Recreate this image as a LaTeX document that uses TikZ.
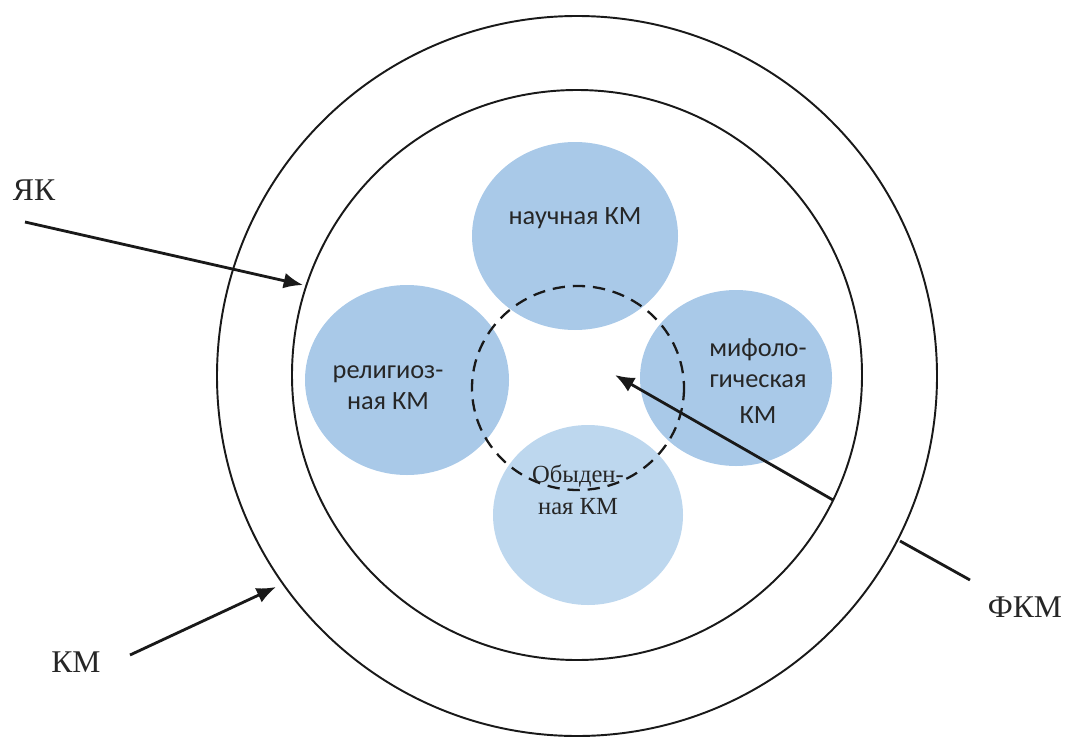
\documentclass[tikz,border=0pt]{standalone}
\usepackage{fontspec}
\setmainfont{Liberation Serif}
\newfontfamily\calibri{Carlito}
\usetikzlibrary{arrows.meta}

\definecolor{kmblue}{RGB}{169,201,232}
\definecolor{kmlight}{RGB}{189,215,238}

\begin{document}
\begin{tikzpicture}[x=0.02cm,y=-0.02cm,
  ring/.style={draw=black!90,line width=1.1pt},
  xuxian/.style={draw=black!90,line width=1.3pt,dash pattern=on 7pt off 4.5pt},
  jiantou/.style={-{Latex[length=11pt,width=9pt]},line width=1.6pt,draw=black!90},
  biaoqian/.style={font=\fontsize{18}{20}\selectfont,text=black!85},
  neirong/.style={font=\calibri\fontsize{15}{17.6}\selectfont,align=center,text=black!85},
  putong/.style={font=\fontsize{14}{18}\selectfont,align=center,text=black!85}]

  % 画布大小
  \useasboundingbox (0,0) rectangle (1067,740);

  % 外圆(KM)和内圆(ЯК)
  \draw[ring] (577,376) circle [radius=360];
  \draw[ring] (577,375) circle [radius=285];

  % 四个蓝色的圆
  \fill[kmblue] (575,236) ellipse [x radius=103, y radius=94];
  \fill[kmblue] (407,380) ellipse [x radius=102, y radius=95];
  \fill[kmblue] (736,378) ellipse [x radius=96, y radius=88];
  \fill[kmlight] (588,515) ellipse [x radius=95, y radius=90];

  % 中间的虚线圆
  \draw[xuxian] (578,388) ellipse [x radius=106, y radius=102];

  % 文字
  \node[neirong] (nauch) at (575,218) {научная КМ};
  \node[neirong] (relig) at (388,388) {религиоз-\\ная КМ};
  \node[neirong] (mifo) at (758,381) {мифоло-\\гическая\\[3pt]КМ};
  \node[putong] (obyd) at (578,490) {Обыден-\\ная КМ};

  % 外面的标签
  \node[biaoqian] (yak) at (34,190) {ЯК};
  \node[biaoqian] (km) at (76,662) {КМ};
  \node[biaoqian] (fkm) at (1025,607) {ФКМ};

  % 箭头的端点
  \coordinate (yak0) at (25,222);
  \coordinate (yak1) at (303,285);
  \coordinate (km0) at (130,655);
  \coordinate (km1) at (276,587);
  \coordinate (fkm0) at (970,580);
  \coordinate (fkm1) at (900,541);
  \coordinate (fkm2) at (833,500);
  \coordinate (fkm3) at (615,375);

  % 箭头
  \draw[jiantou] (yak0) -- (yak1);
  \draw[jiantou] (km0) -- (km1);
  \draw[line width=1.6pt,draw=black!90] (fkm0) -- (fkm1);
  \draw[jiantou] (fkm2) -- (fkm3);

\end{tikzpicture}
\end{document}
